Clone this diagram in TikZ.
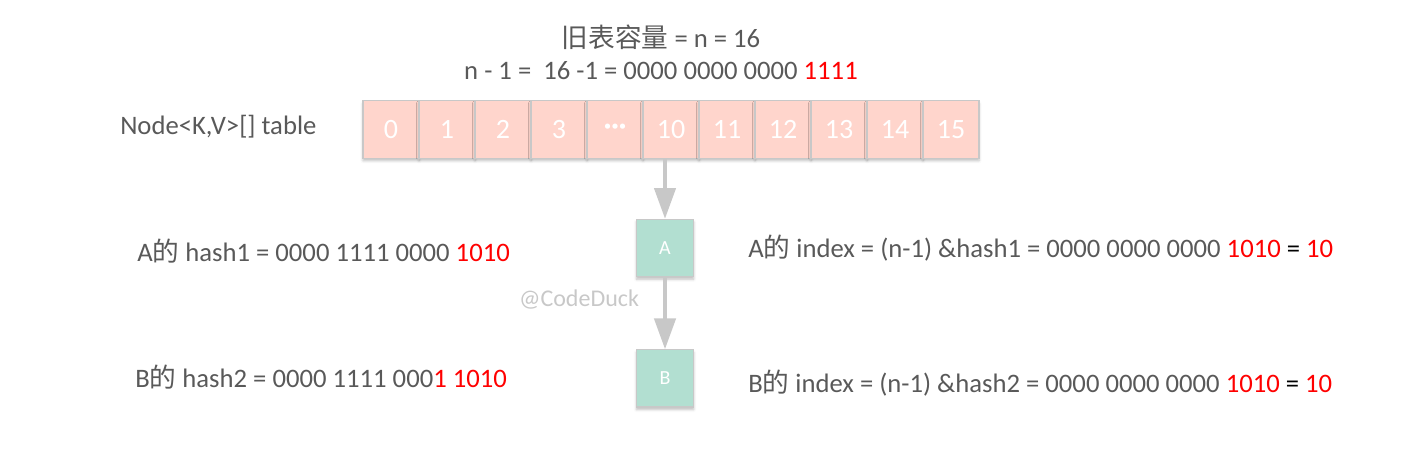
\documentclass[tikz,border=0pt]{standalone}
\usepackage{fontspec}
\setmainfont{Carlito}
\newfontfamily\cjk{Noto Sans CJK SC}
\usetikzlibrary{positioning,arrows.meta,shadows.blur}

\definecolor{txtgray}{HTML}{595959}
\definecolor{cellpink}{HTML}{FFD5CC}
\definecolor{boxteal}{HTML}{B2DFD1}
\definecolor{edgegray}{HTML}{C8C8C8}
\definecolor{hired}{HTML}{FF0000}

\tikzset{
  cell/.style={draw=edgegray, fill=cellpink, line width=0.8pt,
    minimum width=42pt, minimum height=43pt, inner sep=0pt,
    text=white, font=\fontsize{21}{24}\selectfont,
    blur shadow={shadow xshift=0pt, shadow yshift=-2pt, shadow opacity=25, shadow blur extra rounding=0pt}},
  entry/.style={draw=edgegray, fill=boxteal, line width=0.8pt,
    minimum width=43pt, minimum height=43pt, inner sep=0pt,
    text=white, font=\fontsize{15}{18}\selectfont,
    blur shadow={shadow xshift=0pt, shadow yshift=-2pt, shadow opacity=25}},
  label/.style={anchor=west, text=txtgray, inner sep=0pt, font=\fontsize{20}{24}\selectfont},
  link/.style={draw=edgegray, line width=2.5pt, -{Triangle[length=23pt, width=16pt]}}
}

\begin{document}
\begin{tikzpicture}[x=0.75pt, y=-0.75pt]
    \useasboundingbox (0,0) rectangle (1412,455);

    % title lines
    \node[text=txtgray, font=\fontsize{20}{24}\selectfont] (cap) at (661,37) {{\cjk 旧表容量} = n = 16};
    \node[text=txtgray, font=\fontsize{20}{24}\selectfont] (mask) at (661,71) {n - 1 = \ 16 -1 = 0000 0000 0000 \textcolor{hired}{1111}};

    % the table
    \node[label] (tab) at (120,127) {Node<K,V>[] table};
    \foreach \v [count=\i from 0] in {0,1,2,3,\textbf{···},10,11,12,13,14,15}
      \node[cell] (c\i) at (391+56*\i,129.5) {\v};

    % entries
    \node[entry, below=45pt of c5, xshift=-4.5pt] (A) {A};
    \node[entry, below=54pt of A] (B) {B};
    \draw[link] (A|-c5.south) -- (A.north);
    \draw[link] (A.south) -- (B.north);

    \node[text=edgegray, font=\fontsize{18}{20}\selectfont] (wm) at (579,300) {@CodeDuck};

    % hashes
    \node[label] (ha) at (137,251) {A{\cjk 的} hash1 = 0000 1111 0000 \textcolor{hired}{1010}};
    \node[label] (hb) at (135,377) {B{\cjk 的} hash2 = 0000 1111 000\textcolor{hired}{1 1010}};
    \node[label] (ia) at (748,248) {A{\cjk 的} index = (n-1) \&hash1 = 0000 0000 0000 \textcolor{hired}{1010} \textcolor{black}{=} \textcolor{hired}{10}};
    \node[label] (ib) at (748,383) {B{\cjk 的} index = (n-1) \&hash2 = 0000 0000 0000 \textcolor{hired}{1010} \textcolor{black}{=} \textcolor{hired}{10}};
\end{tikzpicture}
\end{document}
